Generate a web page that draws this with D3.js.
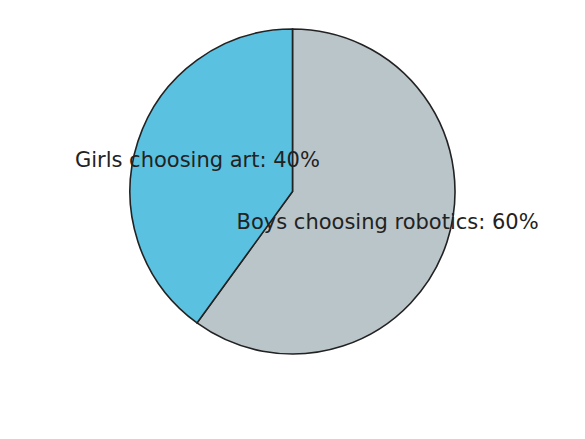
<!DOCTYPE html>
<html>
<head>
<meta charset="utf-8">
<script src="https://cdn.jsdelivr.net/npm/d3@7"></script>
<style>
  body { margin: 0; background: #fff; }
  text { font-family: "DejaVu Sans", sans-serif; }
</style>
</head>
<body>
<div id="chart"></div>
<script>
// slice data
var labels = ["Boys choosing robotics", "Girls choosing art"];
var values = [60, 40];
var colors = ["#bac5ca", "#5bc1e1"];

var w = 585;
var h = 439;
var cx = 292.5, cy = 191.5;
var radius = 162.5;

var svg = d3.select("#chart")
    .append("svg")
    .attr("width", w)
    .attr("height", h);

var pie = d3.pie().sort(null).value(function(d) { return d; });
var arcs = pie(values);

var arc = d3.arc().innerRadius(0).outerRadius(radius);
var labelArc = d3.arc().innerRadius(100).outerRadius(100);

var g = svg.append("g").attr("transform", "translate(" + cx + "," + cy + ")");

g.selectAll("path")
  .data(arcs)
  .enter()
  .append("path")
  .attr("d", arc)
  .attr("fill", function(d, i) { return colors[i]; })
  .attr("stroke", "#222")
  .attr("stroke-width", 1.6);

g.selectAll("text")
  .data(arcs)
  .enter()
  .append("text")
  .attr("transform", function(d) { return "translate(" + labelArc.centroid(d) + ")"; })
  .attr("text-anchor", "middle")
  .attr("dy", "0.3em")
  .attr("font-size", 21)
  .attr("fill", "#222")
  .text(function(d, i) { return labels[i] + ": " + values[i] + "%"; });
</script>
</body>
</html>
